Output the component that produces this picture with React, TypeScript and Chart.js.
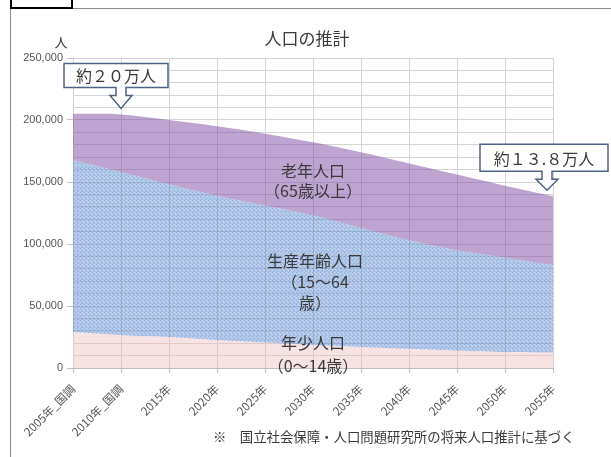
import React, { useEffect, useRef } from 'react';
import { Chart, registerables } from 'chart.js';

Chart.register(...registerables);

// ---- data ----
const categories = ['2005年_国調', '2010年_国調', '2015年', '2020年', '2025年', '2030年', '2035年', '2040年', '2045年', '2050年', '2055年'];
const youngPop = [29000, 26500, 25000, 22500, 20500, 18500, 17000, 15500, 14000, 13000, 12500];
const workingPop = [138500, 131500, 123000, 116500, 110500, 104500, 96000, 87500, 81000, 76000, 70500];
const elderlyPop = [37500, 46500, 52000, 56000, 58000, 59000, 61000, 62000, 61000, 58000, 55500];
const yMax = 250000;
const yGridStep = 10000;
const yLabelStep = 50000;
const calloutIndexes = [1, 10];
const calloutTexts = ['約２０万人', '約１３.８万人'];
const labelIndex = 5;
const youngLabel = ['年少人口', '（0～14歳）'];
const workingLabel = ['生産年齢人口', '（15～64', '歳）'];
const elderlyLabel = ['老年人口', '（65歳以上）'];
const titleText = '人口の推計';
const unitText = '人';
const noteText = '※　国立社会保障・人口問題研究所の将来人口推計に基づく';

const JP = '"Noto Sans CJK JP", "Noto Sans", sans-serif';

// callout box geometry relative to arrow tip (style only)
const calloutBoxes = [
  { dx: 0, left: -57, right: 47, top: -45, bottom: -21 },
  { dx: -6, left: -67, right: 61, top: -46, bottom: -19 },
];

const totals = youngPop.map((v, i) => v + workingPop[i] + elderlyPop[i]);

// woven texture for the working-age area (fixed, deterministic tile)
function makeTexture(): CanvasPattern | string {
  const c = document.createElement('canvas');
  c.width = 4;
  c.height = 4;
  const g = c.getContext('2d');
  if (!g) return 'rgba(95,140,210,0.55)';
  g.fillStyle = 'rgba(95,140,210,0.5)';
  g.fillRect(0, 0, 4, 4);
  g.fillStyle = 'rgba(60,100,185,0.2)';
  g.fillRect(0, 0, 1, 1);
  g.fillRect(2, 2, 1, 1);
  g.fillRect(1, 3, 1, 1);
  g.fillStyle = 'rgba(255,255,255,0.25)';
  g.fillRect(2, 0, 1, 1);
  g.fillRect(0, 2, 1, 1);
  g.fillRect(3, 1, 1, 1);
  const ctx = document.createElement('canvas').getContext('2d');
  const p = ctx ? ctx.createPattern(c, 'repeat') : null;
  return p || 'rgba(95,140,210,0.55)';
}

const overlayPlugin = {
  id: 'overlay',
  afterDraw(chart: any) {
    const ctx = chart.ctx;
    const xs = chart.scales.x;
    const ys = chart.scales.y;
    ctx.save();
    const drawLines = (lines: string[], cx: number, cy: number, lh: number) => {
      ctx.font = `16px ${JP}`;
      ctx.fillStyle = '#3a3a3a';
      ctx.textAlign = 'center';
      ctx.textBaseline = 'middle';
      const start = cy - ((lines.length - 1) * lh) / 2;
      lines.forEach((l, k) => ctx.fillText(l, cx, start + k * lh));
    };
    const i = labelIndex;
    const cx = xs.getPixelForValue(i);
    const y0 = youngPop[i];
    const y1 = y0 + workingPop[i];
    const y2 = y1 + elderlyPop[i];
    drawLines(elderlyLabel, cx, ys.getPixelForValue((y1 + y2) / 2) + 2, 20);
    drawLines(workingLabel, cx + 2, ys.getPixelForValue((y0 + y1) / 2) + 2, 21);
    drawLines(youngLabel, cx, ys.getPixelForValue(y0 / 2) - 2, 23);

    calloutIndexes.forEach((idx, k) => {
      const g = calloutBoxes[k];
      const tx = xs.getPixelForValue(idx) + g.dx;
      const ty = ys.getPixelForValue(totals[idx]) - 6;
      const L = tx + g.left, R = tx + g.right, T = ty + g.top, B = ty + g.bottom;
      const stemHW = 5, headHW = 11, stemLen = 8;
      ctx.beginPath();
      ctx.moveTo(L, T);
      ctx.lineTo(R, T);
      ctx.lineTo(R, B);
      ctx.lineTo(tx + stemHW, B);
      ctx.lineTo(tx + stemHW, B + stemLen);
      ctx.lineTo(tx + headHW, B + stemLen);
      ctx.lineTo(tx, ty);
      ctx.lineTo(tx - headHW, B + stemLen);
      ctx.lineTo(tx - stemHW, B + stemLen);
      ctx.lineTo(tx - stemHW, B);
      ctx.lineTo(L, B);
      ctx.closePath();
      ctx.fillStyle = '#ffffff';
      ctx.fill();
      ctx.lineWidth = 1.5;
      ctx.strokeStyle = '#4d6383';
      ctx.stroke();
      ctx.font = `16px ${JP}`;
      ctx.fillStyle = '#3a3a3a';
      ctx.textAlign = 'center';
      ctx.textBaseline = 'middle';
      ctx.fillText(calloutTexts[k], (L + R) / 2, (T + B) / 2 + 1);
    });
    ctx.restore();
  },
};

export default function App() {
  const ref = useRef<HTMLCanvasElement | null>(null);
  useEffect(() => {
    if (!ref.current) return;
    const chart = new Chart(ref.current, {
      type: 'line',
      data: {
        labels: categories,
        datasets: [
          {
            label: '年少人口',
            data: youngPop,
            fill: 'origin',
            backgroundColor: 'rgba(235,185,190,0.42)',
            borderWidth: 0,
            pointRadius: 0,
            tension: 0.3,
          },
          {
            label: '生産年齢人口',
            data: workingPop,
            fill: '-1',
            backgroundColor: makeTexture() as any,
            borderWidth: 0,
            pointRadius: 0,
            tension: 0.3,
          },
          {
            label: '老年人口',
            data: elderlyPop,
            fill: '-1',
            backgroundColor: 'rgba(130,80,165,0.52)',
            borderWidth: 0,
            pointRadius: 0,
            tension: 0.3,
          },
        ],
      },
      options: {
        responsive: false,
        animation: false,
        layout: { padding: { top: 58, right: 58, left: 0, bottom: 0 } },
        plugins: { legend: { display: false }, tooltip: { enabled: false }, title: { display: false } },
        scales: {
          x: {
            offset: false,
            grid: { color: '#d4d4d4', tickLength: 5, tickColor: '#bfbfbf' },
            border: { color: '#bfbfbf' },
            ticks: {
              autoSkip: false,
              minRotation: 45,
              maxRotation: 45,
              padding: 9,
              color: '#555555',
              font: { family: JP, size: 11.5 },
            },
            afterFit: (s: any) => { s.height = 89; },
          },
          y: {
            stacked: true,
            min: 0,
            max: yMax,
            grid: {
              color: '#d4d4d4',
              tickLength: 6,
              tickColor: (c: any) => (c.tick && c.tick.value % yLabelStep === 0 ? '#bfbfbf' : 'rgba(0,0,0,0)'),
            },
            border: { display: false },
            ticks: {
              stepSize: yGridStep,
              autoSkip: false,
              padding: 4,
              color: '#555555',
              font: { family: '"Liberation Sans", Arial, sans-serif', size: 11 },
              callback: (v: any) => (Number(v) % yLabelStep === 0 ? Number(v).toLocaleString('en-US') : ''),
            },
            afterFit: (s: any) => { s.width = 73; },
          },
        },
      },
      plugins: [overlayPlugin],
    });
    return () => chart.destroy();
  }, []);

  return (
    <div style={{ position: 'fixed', left: 0, top: 0, width: 611, height: 457, background: '#fff', overflow: 'hidden' }}>
      <div style={{ position: 'absolute', left: 10, top: 8, width: 700, height: 500, borderLeft: '1px solid #8a8a8a', borderTop: '1px solid #8a8a8a' }} />
      <div style={{ position: 'absolute', left: 10, top: -4, width: 59, height: 9, border: '2px solid #000' }} />
      <canvas ref={ref} width={611} height={457} style={{ position: 'absolute', left: 0, top: 0, width: 611, height: 457 }} />
      <div style={{ position: 'absolute', left: 207, top: 28, width: 200, textAlign: 'center', fontFamily: JP, fontSize: 17, lineHeight: '20px', color: '#3a3a3a' }}>{titleText}</div>
      <div style={{ position: 'absolute', left: 54, top: 34, width: 14, textAlign: 'center', fontFamily: JP, fontSize: 13, lineHeight: '15px', color: '#3a3a3a' }}>{unitText}</div>
      <div style={{ position: 'absolute', left: 213, top: 428, whiteSpace: 'nowrap', fontFamily: JP, fontSize: 13.4, lineHeight: '16px', color: '#3a3a3a' }}>{noteText}</div>
    </div>
  );
}
